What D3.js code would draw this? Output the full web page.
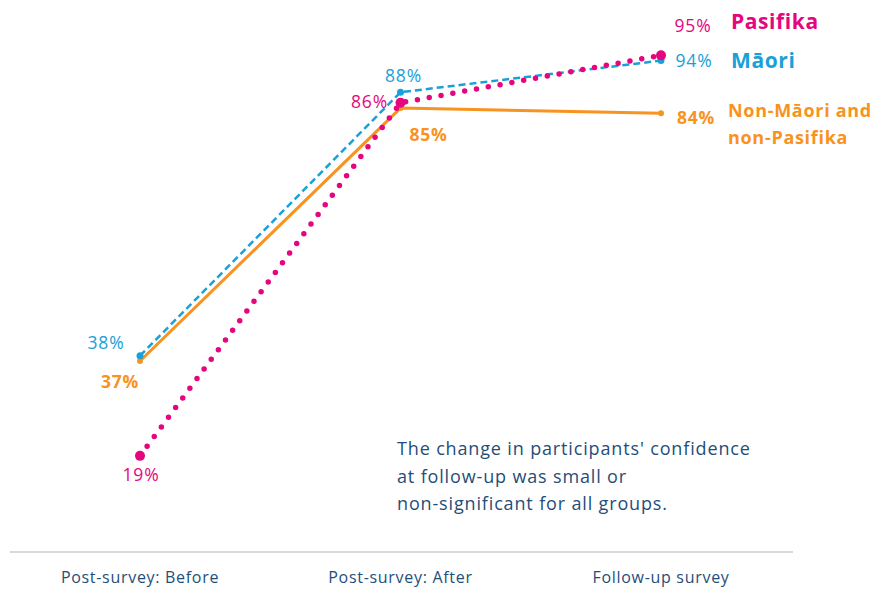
<!DOCTYPE html>
<html><head><meta charset="utf-8">
<script src="https://cdn.jsdelivr.net/npm/d3@7"></script>
<style>body{margin:0;background:#fff}svg{display:block}text{font-family:"Open Sans",Lato,sans-serif}</style>
</head><body><svg id="c" width="874" height="592"></svg>
<script>
const categories = ["Post-survey: Before", "Post-survey: After", "Follow-up survey"];
const maori = [38, 88, 94];
const pasifika = [19, 86, 95];
const nonMP = [37, 85, 84];
const seriesNames = ["Pasifika", "Māori", "Non-Māori and non-Pasifika"];
const note = ["The change in participants' confidence", "at follow-up was small or", "non-significant for all groups."];

const svg = d3.select("#c");
const x = d3.scalePoint().domain(categories).range([140, 661]);
const y = d3.scaleLinear().domain([0, 100]).range([556, 29]);
const navy = "#1f4e79";
const cP = "#e5067f", cM = "#1aa0d8", cN = "#f7931e";

// axis
svg.append("line").attr("x1", 10).attr("x2", 793).attr("y1", 552).attr("y2", 552)
  .attr("stroke", "#d9d9d9").attr("stroke-width", 2);
categories.forEach(c => svg.append("text").attr("x", x(c)).attr("y", 583)
  .attr("text-anchor", "middle").attr("font-size", 16).attr("letter-spacing", 0.7).attr("fill", navy).text(c));

const line = d3.line().x((d, i) => x(categories[i])).y(d => y(d));

// non-Maori
svg.append("path").attr("d", line(nonMP)).attr("fill", "none").attr("stroke", cN).attr("stroke-width", 3);
nonMP.forEach((v, i) => svg.append("circle").attr("cx", x(categories[i])).attr("cy", y(v)).attr("r", 3).attr("fill", cN));
// Maori
svg.append("path").attr("d", line(maori)).attr("fill", "none").attr("stroke", cM).attr("stroke-width", 2.5).attr("stroke-dasharray", "7,4");
maori.forEach((v, i) => svg.append("circle").attr("cx", x(categories[i])).attr("cy", y(v)).attr("r", 3.5).attr("fill", cM));
// Pasifika
svg.append("path").attr("d", line(pasifika)).attr("fill", "none").attr("stroke", cP).attr("stroke-width", 5.5)
  .attr("stroke-linecap", "round").attr("stroke-dasharray", "0,12");
pasifika.forEach((v, i) => svg.append("circle").attr("cx", x(categories[i])).attr("cy", y(v)).attr("r", 5).attr("fill", cP));

// value labels
function lab(xx, yy, t, col, bold) {
  svg.append("text").attr("x", xx).attr("y", yy).attr("font-size", 17.5).attr("letter-spacing", 0.8).attr("fill", col)
    .attr("font-weight", bold ? "bold" : "normal").attr("text-anchor", "middle").text(t);
}
const fmt = v => v + "%";
lab(x(categories[0]) - 34, y(maori[0]) - 7, fmt(maori[0]), cM);
lab(x(categories[0]) - 20, y(nonMP[0]) + 27, fmt(nonMP[0]), cN, true);
lab(x(categories[0]) + 1, y(pasifika[0]) + 25, fmt(pasifika[0]), cP);
lab(x(categories[1]) + 3, y(maori[1]) - 10, fmt(maori[1]), cM);
lab(x(categories[1]) - 31, y(pasifika[1]) + 5, fmt(pasifika[1]), cP);
lab(x(categories[1]) + 28, y(nonMP[1]) + 33, fmt(nonMP[1]), cN, true);
lab(x(categories[2]) + 32, y(pasifika[2]) - 23, fmt(pasifika[2]), cP);
lab(x(categories[2]) + 33, y(maori[2]) + 6, fmt(maori[2]), cM);
lab(x(categories[2]) + 35, y(nonMP[2]) + 11, fmt(nonMP[2]), cN, true);

// legend
svg.append("text").attr("x", 731).attr("y", 29).attr("font-size", 21).attr("letter-spacing", 0.6).attr("font-weight", "bold").attr("fill", cP).text(seriesNames[0]);
svg.append("text").attr("x", 731).attr("y", 68).attr("font-size", 21).attr("letter-spacing", 0.6).attr("font-weight", "bold").attr("fill", cM).text(seriesNames[1]);
svg.append("text").attr("x", 728).attr("y", 117).attr("font-size", 18).attr("letter-spacing", 0.7).attr("font-weight", "bold").attr("fill", cN).text("Non-Māori and");
svg.append("text").attr("x", 728).attr("y", 144).attr("font-size", 18).attr("letter-spacing", 0.7).attr("font-weight", "bold").attr("fill", cN).text("non-Pasifika");

// note
note.forEach((t, i) => svg.append("text").attr("x", 397).attr("y", 455 + i * 27.5).attr("font-size", 18).attr("letter-spacing", 0.85).attr("fill", navy).text(t));
</script></body></html>
